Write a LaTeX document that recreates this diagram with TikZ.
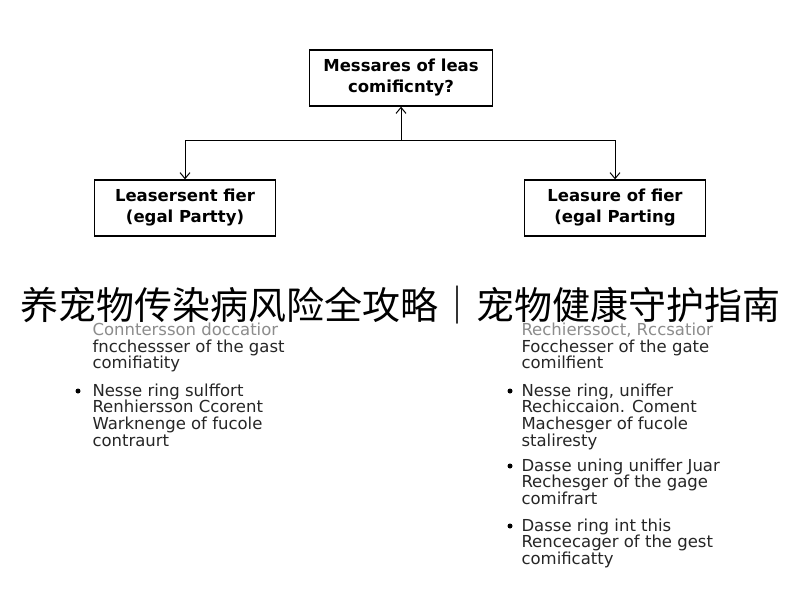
\documentclass[tikz,border=0pt]{standalone}
\usepackage{fontspec}
\setmainfont{DejaVu Sans}
\newfontfamily\cjk{Noto Sans CJK SC}
\usetikzlibrary{arrows,arrows.meta,positioning}

\tikzset{
  box/.style={draw,line width=1.3pt,minimum width=181pt,minimum height=56pt,
    align=center,font=\fontsize{16.5}{21}\selectfont\bfseries},
  item/.style={anchor=north west,align=left,inner sep=0pt,
    font=\fontsize{16.5}{16.8}\selectfont,text=black!85},
  dot/.style={circle,fill=black,inner sep=0pt,minimum size=5pt},
  link/.style={-{Straight Barb[length=6pt,width=10pt]}},
}

\begin{document}
\begin{tikzpicture}[x=1pt,y=-1pt,line width=1pt]
\useasboundingbox[fill=white] (0,0) rectangle (800,600);
% boxes
\node[box,minimum width=183pt] (top) at (401,78) {Messares of leas\\comificnty?};
\node[box] (left) at (185,208) {Leasersent fier\\(egal Partty)};
\node[box] (right) at (615,208) {Leasure of fier\\(egal Parting};
% connectors
\coordinate (hub) at (401,140);
\coordinate (hl) at (185,140);
\coordinate (hr) at (615,140);
\draw[link] (hub) -- (top.south);
\draw (hl) -- (hr);
\draw[link] (hl) -- (left.north);
\draw[link] (hr) -- (right.north);
% left column
\node[item,text=black!45] (l0) at (92,322) {Conntersson doccatior};
\node[item] (l1) at (92,339) {fncchessser of the gast\\comifiatity};
\node[item] (l2) at (92,383) {Nesse ring sulffort\\Renhiersson Ccorent\\Warknenge of fucole\\contraurt};
\node[dot] (ld2) at (78,391) {};
% right column
\node[item,text=black!45] (r0) at (521,322) {Rechierssoct, Rccsatior};
\node[item] (r1) at (521,339) {Focchesser of the gate\\comilfient};
\node[item] (r2) at (521,383) {Nesse ring, uniffer\\Rechiccaion. Coment\\Machesger of fucole\\staliresty};
\node[item] (r3) at (521,458) {Dasse uning uniffer Juar\\Rechesger of the gage\\comifrart};
\node[item] (r4) at (521,518) {Dasse ring int this\\Rencecager of the gest\\comificatty};
\node[dot] (rd2) at (510,391) {};
\node[dot] (rd3) at (510,466) {};
\node[dot] (rd4) at (510,526) {};
% banner
\node[font=\cjk\fontsize{38}{40}\selectfont] (banner) at (400,305)
  {养宠物传染病风险全攻略｜宠物健康守护指南};
\end{tikzpicture}
\end{document}
